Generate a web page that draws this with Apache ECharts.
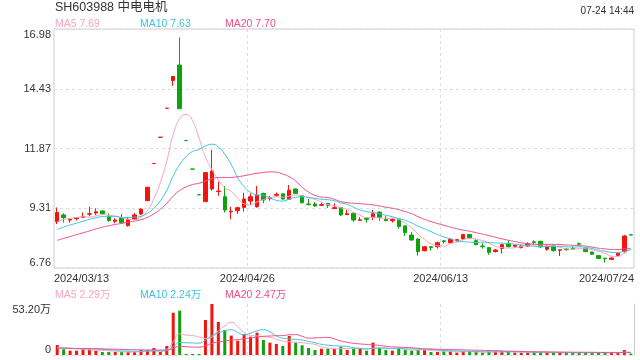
<!DOCTYPE html>
<html><head><meta charset="utf-8">
<script src="https://cdn.jsdelivr.net/npm/echarts@6/dist/echarts.min.js"></script>
<style>html,body{margin:0;padding:0;background:#fff}#c{width:640px;height:360px}</style>
</head><body><div id="c"></div>
<script>
const dates = [
'2024/03/13','2024/03/14','2024/03/15','2024/03/18','2024/03/19','2024/03/20','2024/03/21','2024/03/22','2024/03/25','2024/03/26','2024/03/27','2024/03/28','2024/03/29',
'2024/04/01','2024/04/02','2024/04/03','2024/04/08','2024/04/09','2024/04/10','2024/04/11','2024/04/12','2024/04/15','2024/04/16','2024/04/17','2024/04/18','2024/04/19','2024/04/22','2024/04/23','2024/04/24','2024/04/25','2024/04/26','2024/04/29','2024/04/30',
'2024/05/06','2024/05/07','2024/05/08','2024/05/09','2024/05/10','2024/05/13','2024/05/14','2024/05/15','2024/05/16','2024/05/17','2024/05/20','2024/05/21','2024/05/22','2024/05/23','2024/05/24','2024/05/27','2024/05/28','2024/05/29','2024/05/30','2024/05/31',
'2024/06/03','2024/06/04','2024/06/05','2024/06/06','2024/06/07','2024/06/11','2024/06/12','2024/06/13','2024/06/14','2024/06/17','2024/06/18','2024/06/19','2024/06/20','2024/06/21','2024/06/24','2024/06/25','2024/06/26','2024/06/27','2024/06/28',
'2024/07/01','2024/07/02','2024/07/03','2024/07/04','2024/07/05','2024/07/08','2024/07/09','2024/07/10','2024/07/11','2024/07/12','2024/07/15','2024/07/16','2024/07/17','2024/07/18','2024/07/19','2024/07/22','2024/07/23','2024/07/24'];
const opens = [8.74,9.03,8.81,8.87,8.93,9.06,9.11,9.20,8.98,8.76,8.90,8.57,8.84,9.07,9.64,11.23,12.35,13.59,14.78,15.44,12.21,10.99,9.89,9.60,10.14,10.03,9.81,9.16,9.21,9.35,9.62,9.38,9.95,9.72,9.87,9.93,9.70,10.14,9.85,9.50,9.50,9.44,9.52,9.30,9.34,9.04,9.10,8.80,8.88,8.93,9.15,8.84,8.78,8.84,8.56,8.17,8.00,7.50,7.67,7.67,7.92,7.84,7.92,8.00,8.19,7.93,7.70,7.63,7.46,7.59,7.80,7.69,7.63,7.70,7.88,7.90,7.56,7.70,7.52,7.57,7.60,7.80,7.60,7.44,7.29,7.18,7.13,7.30,7.46,8.18];
const closes = [9.13,8.91,8.84,8.91,8.96,9.08,9.16,9.08,8.79,8.81,8.70,8.84,9.03,9.28,10.21,11.23,12.35,13.59,14.95,13.57,12.21,10.99,9.89,10.84,10.91,10.05,9.24,9.19,9.34,9.71,9.81,9.88,9.67,9.77,9.91,9.71,10.09,9.95,9.55,9.47,9.41,9.47,9.44,9.34,9.03,9.08,8.81,8.82,8.84,9.08,8.93,8.78,8.84,8.53,8.27,7.96,7.46,7.67,7.64,7.84,7.89,7.99,7.97,8.19,8.06,7.76,7.67,7.43,7.53,7.76,7.67,7.73,7.70,7.80,7.85,7.66,7.67,7.50,7.54,7.55,7.57,7.78,7.46,7.35,7.17,7.16,7.19,7.39,8.13,8.17];
const lows = [8.64,8.70,8.70,8.79,8.89,8.98,9.03,9.06,8.74,8.67,8.67,8.53,8.81,9.03,9.62,11.23,12.35,13.59,14.55,13.57,12.21,10.99,9.89,9.59,10.07,9.85,9.13,8.84,9.07,9.17,9.45,9.34,9.53,9.64,9.81,9.68,9.67,9.93,9.52,9.44,9.38,9.41,9.33,9.30,8.98,9.03,8.74,8.77,8.70,8.81,8.78,8.77,8.70,8.44,8.13,7.92,7.29,7.47,7.50,7.59,7.81,7.81,7.89,7.96,8.03,7.73,7.59,7.32,7.43,7.39,7.64,7.64,7.60,7.67,7.77,7.63,7.50,7.46,7.27,7.50,7.55,7.72,7.44,7.33,7.15,6.99,7.10,7.28,7.39,8.16];
const highs = [9.35,9.10,8.85,8.93,9.13,9.38,9.31,9.21,9.10,8.89,9.07,8.91,9.11,9.31,10.23,11.23,12.35,13.59,14.97,16.62,12.21,10.99,9.89,10.85,11.81,10.45,10.27,9.38,9.38,9.98,9.95,10.27,9.98,9.85,9.99,9.95,10.31,10.16,9.88,9.71,9.58,9.55,9.55,9.53,9.38,9.24,9.13,8.93,8.93,9.24,9.18,8.98,8.88,8.88,8.60,8.29,8.03,7.70,7.67,7.89,7.96,8.02,8.00,8.21,8.21,8.00,7.82,7.64,7.56,7.79,7.93,7.76,7.74,7.86,7.94,7.93,7.74,7.74,7.54,7.62,7.68,7.85,7.62,7.46,7.31,7.18,7.21,7.41,8.17,8.19];
const volumes = [10.4,5.9,4.5,4.5,5.9,5.9,4.5,3.1,3.1,3.1,3.1,3.1,3.1,5.2,5.2,7.3,3.1,9.4,44.1,46.2,1.0,1.0,1.0,36.5,53.2,34.4,26.1,20.2,14.9,21.9,19.1,23.3,15.6,12.9,11.5,9.4,19.8,12.9,10.1,7.3,5.2,6.6,6.6,6.6,8.7,5.2,6.6,6.6,4.5,12.9,7.3,5.2,4.5,6.6,5.2,4.5,5.2,5.2,3.1,3.1,3.8,3.8,2.4,3.8,3.8,3.1,2.4,3.1,3.8,3.8,3.8,2.4,2.4,2.4,2.4,3.1,2.4,2.4,2.4,2.4,2.4,2.4,2.4,2.4,2.4,2.4,2.4,2.4,5.2,1.5];
// closes / volumes of the 19 sessions before the visible window (estimated from the MA lines)
const preCloses = [7.20,7.25,7.32,7.38,7.45,7.50,7.55,7.60,7.68,7.77,7.90,7.98,8.08,8.18,8.26,8.45,8.60,8.72,8.80];
const preVolumes = [7.0,6.5,7.5,6.8,7.2,6.0,7.4,6.6,7.0,6.8,7.2,6.4,7.6,6.9,7.1,6.5,7.3,6.8,7.0];
const priceTicks = ['6.76','9.31','11.87','14.43','16.98'];
const volTicks = ['0','53.20万'];
const xLabelPos = [0, 30, 60, 90];          // session boundaries carrying a date label
const xLabelText = ['2024/03/13','2024/04/26','2024/06/13','2024/07/24'];
const titleText = 'SH603988 中电电机';
const timeText = '07-24 14:44';
const priceLegend = ['MA5 7.69','MA10 7.63','MA20 7.70'];
const volLegend = ['MA5 2.29万','MA10 2.24万','MA20 2.47万'];

const UP = '#f2150d', DOWN = '#0ea30e';
const MA_COLORS = ['#f9a3bf','#3cc3e2','#ee4f86'];
const FONT = '"Liberation Sans", Arial, "Noto Sans CJK SC", sans-serif';

function movingAvg(n, pre, arr) {
  const all = pre.concat(arr), off = pre.length, out = [];
  for (let i = 0; i < arr.length; i++) {
    let s = 0; for (let k = 0; k < n; k++) s += all[off + i - k];
    out.push(+(s / n).toFixed(3));
  }
  return out;
}
const sign = opens.map((o, i) => {
  if (closes[i] > o) return 1; if (closes[i] < o) return -1;
  const prev = i > 0 ? closes[i - 1] : preCloses[preCloses.length - 1];
  return closes[i] >= prev ? 1 : -1;
});
const kData = opens.map((o, i) => [o, closes[i], lows[i], highs[i]]);
const volData = volumes.map((v, i) => ({ value: v, itemStyle: { color: sign[i] > 0 ? UP : DOWN } }));

const chart = echarts.init(document.getElementById('c'), null, { renderer: 'canvas' });
const axisText = { color: '#333', fontSize: 11, fontFamily: FONT };
const dashLine = { color: '#ddd', type: [3, 3], width: 1 };
const N = dates.length;
function lineSeries(name, data, color, xi, yi) {
  return { name, type: 'line', data, xAxisIndex: xi, yAxisIndex: yi, symbol: 'none', smooth: true,
           lineStyle: { color, width: 1 }, itemStyle: { color }, silent: true, z: 3 };
}
function legendTexts(arr, y) {
  const xs = [55, 140, 225];
  return arr.map((t, i) => ({ type: 'text', left: xs[i], top: y, style: { text: t, fill: MA_COLORS[i], font: '10.5px ' + FONT } }));
}
chart.setOption({
  animation: false,
  backgroundColor: '#fff',
  grid: [
    { left: 54, right: 6, top: 29, height: 239, show: true, borderColor: '#ccc', borderWidth: 1 },
    { left: 54, right: 6, top: 304, height: 51, show: false }
  ],
  xAxis: [
    { type: 'category', gridIndex: 0, data: dates, boundaryGap: true, show: false },
    { type: 'category', gridIndex: 1, data: dates, boundaryGap: true, show: false },
    { type: 'value', gridIndex: 0, min: 0, max: N, interval: 30, position: 'bottom',
      axisLine: { show: false }, axisTick: { show: false },
      axisLabel: Object.assign({}, axisText, { margin: 5,
        formatter: (v) => xLabelText[xLabelPos.indexOf(Math.round(v))] || '',
        alignMinLabel: 'left', alignMaxLabel: 'right' }),
      splitLine: { show: true, lineStyle: dashLine, showMinLine: false, showMaxLine: false } },
    { type: 'value', gridIndex: 1, min: 0, max: N, interval: 30, position: 'top',
      axisLine: { show: true, lineStyle: dashLine }, axisTick: { show: false }, axisLabel: { show: false },
      splitLine: { show: true, lineStyle: dashLine, showMinLine: false, showMaxLine: false } }
  ],
  yAxis: [
    { type: 'value', gridIndex: 0, min: 6.76, max: 16.98, interval: 2.555,
      axisLine: { show: false }, axisTick: { show: false },
      axisLabel: Object.assign({}, axisText, { margin: 3,
        formatter: (v) => priceTicks[Math.round((v - 6.76) / 2.555)],
        verticalAlignMinLabel: 'bottom', verticalAlignMaxLabel: 'top' }),
      splitLine: { show: true, lineStyle: dashLine } },
    { type: 'value', gridIndex: 1, min: 0, max: 53.2, interval: 53.2,
      axisLine: { show: false }, axisTick: { show: false },
      axisLabel: Object.assign({}, axisText, { margin: 3,
        formatter: (v) => volTicks[Math.round(v / 53.2)],
        verticalAlignMinLabel: 'bottom', verticalAlignMaxLabel: 'top' }),
      splitLine: { show: false } },
    { type: 'value', gridIndex: 1, min: 0, max: 53.2, position: 'right',
      axisLine: { show: true, lineStyle: { color: '#ccc', width: 1 } }, axisTick: { show: false },
      axisLabel: { show: false }, splitLine: { show: false } }
  ],
  series: [
    { type: 'candlestick', data: kData, xAxisIndex: 0, yAxisIndex: 0, barWidth: 4,
      itemStyle: { color: UP, color0: DOWN, borderColor: UP, borderColor0: DOWN, borderWidth: 1 }, z: 2 },
    lineSeries('MA5', movingAvg(5, preCloses, closes), MA_COLORS[0], 0, 0),
    lineSeries('MA10', movingAvg(10, preCloses, closes), MA_COLORS[1], 0, 0),
    lineSeries('MA20', movingAvg(20, preCloses, closes), MA_COLORS[2], 0, 0),
    { type: 'bar', data: volData, xAxisIndex: 1, yAxisIndex: 1, barWidth: 3, z: 2 },
    lineSeries('VMA5', movingAvg(5, preVolumes, volumes), MA_COLORS[0], 1, 1),
    lineSeries('VMA10', movingAvg(10, preVolumes, volumes), MA_COLORS[1], 1, 1),
    lineSeries('VMA20', movingAvg(20, preVolumes, volumes), MA_COLORS[2], 1, 1)
  ],
  graphic: [
    { type: 'text', left: 55, top: 1, style: { text: titleText, fill: '#333', font: '12.5px ' + FONT } },
    { type: 'text', right: 6, top: 6, style: { text: timeText, fill: '#333', font: '10px ' + FONT } }
  ].concat(legendTexts(priceLegend, 18.5)).concat(legendTexts(volLegend, 289.5))
});
</script></body></html>
